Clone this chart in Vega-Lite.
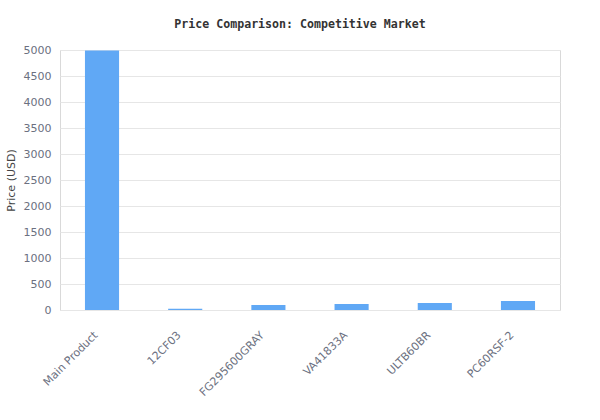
{
  "$schema": "https://vega.github.io/schema/vega-lite/v6.json",
  "autosize": "none",
  "width": 500,
  "height": 260,
  "padding": {"left": 60, "top": 50, "right": 40, "bottom": 110},
  "background": "white",
  "title": {
    "text": "Price Comparison: Competitive Market",
    "font": "DejaVu Sans Mono",
    "fontSize": 11.6,
    "fontWeight": "bold",
    "color": "#333333",
    "anchor": "middle",
    "dx": -10,
    "offset": 13
  },
  "data": {
    "values": [
      {"product": "Main Product", "price": 4990},
      {"product": "12CF03", "price": 22},
      {"product": "FG295600GRAY", "price": 98},
      {"product": "VA41833A", "price": 117},
      {"product": "ULTB60BR", "price": 136},
      {"product": "PC60RSF-2", "price": 174}
    ]
  },
  "mark": {"type": "bar", "color": "#60a8f5"},
  "encoding": {
    "x": {
      "field": "product",
      "type": "nominal",
      "sort": null,
      "scale": {"paddingInner": 0.59, "paddingOuter": 0.3},
      "axis": {
        "title": null,
        "labelAngle": -45,
        "labelFont": "DejaVu Sans",
        "labelFontSize": 11,
        "labelColor": "#6b7080",
        "ticks": false,
        "domain": false,
        "labelPadding": 19,
        "labelOffset": -10
      }
    },
    "y": {
      "field": "price",
      "type": "quantitative",
      "scale": {"domain": [0, 5000]},
      "axis": {
        "title": "Price (USD)",
        "titleFont": "DejaVu Sans",
        "titleFontSize": 11,
        "titleFontWeight": "normal",
        "titleColor": "#444444",
        "titlePadding": 7,
        "format": "d",
        "values": [0, 500, 1000, 1500, 2000, 2500, 3000, 3500, 4000, 4500, 5000],
        "labelFont": "DejaVu Sans",
        "labelFontSize": 11,
        "labelColor": "#6b7080",
        "labelPadding": 9,
        "ticks": false,
        "domain": false,
        "gridColor": "#e6e6e6"
      }
    }
  },
  "config": {
    "view": {"stroke": "#d9d9d9", "strokeWidth": 1}
  }
}
